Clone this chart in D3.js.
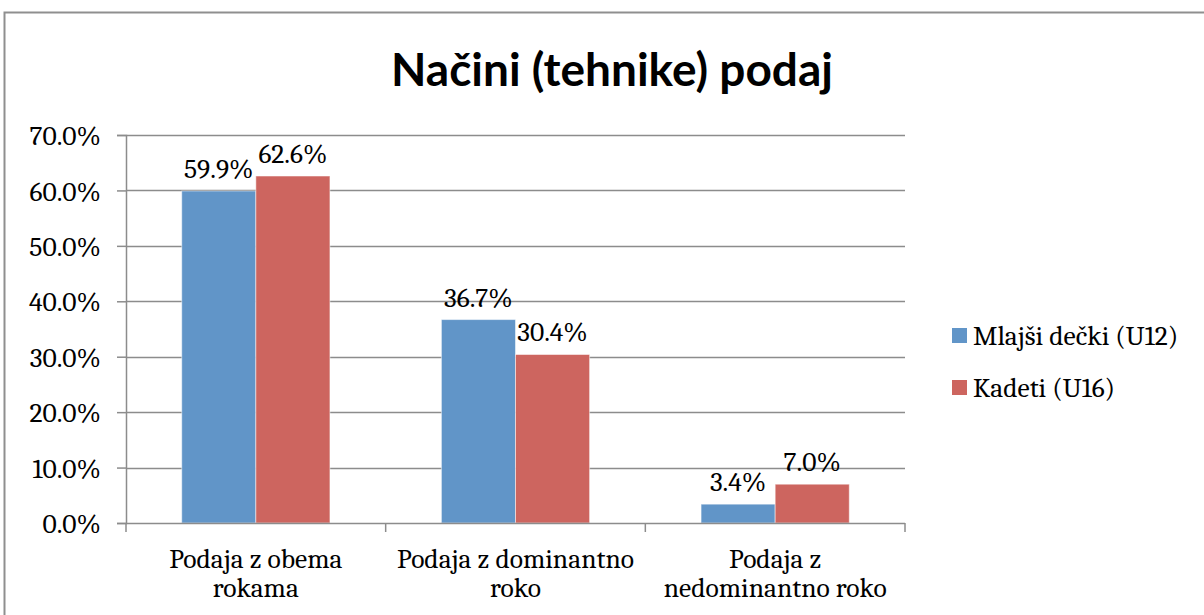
<!DOCTYPE html>
<html>
<head>
<meta charset="utf-8">
<script src="https://cdn.jsdelivr.net/npm/d3@7"></script>
<style>
  body { margin: 0; background: #fff; }
  svg { display: block; }
</style>
</head>
<body>
<div id="chart"></div>
<script>
// podatki
const categories = ["Podaja z obema rokama", "Podaja z dominantno roko", "Podaja z nedominantno roko"];
const categoryLines = [["Podaja z obema", "rokama"], ["Podaja z dominantno", "roko"], ["Podaja z", "nedominantno roko"]];
const seriesNames = ["Mlajši dečki (U12)", "Kadeti (U16)"];
const mlajsi = [0.599, 0.367, 0.034];
const kadeti = [0.626, 0.304, 0.070];
const yTicks = [0, 0.1, 0.2, 0.3, 0.4, 0.5, 0.6, 0.7];
const colors = ["#6195c8", "#cd655f"];

const W = 1204, H = 615;
const plot = { left: 126, right: 905, top: 135, bottom: 523 };
const serif = "Cambria, 'Liberation Serif', serif";
const fs = "27.5px";

const svg = d3.select("#chart").append("svg")
    .attr("width", W)
    .attr("height", H);

// okvir
svg.append("rect")
    .attr("x", 4.5).attr("y", 12.5)
    .attr("width", W + 10).attr("height", H + 10)
    .attr("fill", "#fff")
    .attr("stroke", "#8f8f8f")
    .attr("stroke-width", 2);

// naslov
svg.append("text")
    .attr("x", 612).attr("y", 86)
    .attr("text-anchor", "middle")
    .style("font-family", "Lato, sans-serif")
    .style("font-weight", "bold")
    .style("font-size", "46px")
    .text("Načini (tehnike) podaj");

const y = d3.scaleLinear().domain([0, 0.7]).range([plot.bottom, plot.top]);
const x0 = d3.scaleBand().domain(categories).range([plot.left, plot.right]).padding(0);
const x1 = d3.scaleBand().domain(seriesNames).range([0, x0.bandwidth()])
    .paddingInner(0).paddingOuter(0.752);

// mreža
svg.append("g")
    .selectAll("line")
    .data(yTicks.slice(1))
    .join("line")
    .attr("x1", plot.left).attr("x2", plot.right)
    .attr("y1", d => Math.round(y(d)) + 0.5).attr("y2", d => Math.round(y(d)) + 0.5)
    .attr("stroke", "#8c8c8c")
    .attr("stroke-width", 1.5);

// os y
const yAxis = svg.append("g")
    .attr("transform", `translate(${plot.left},0)`)
    .call(d3.axisLeft(y).tickValues(yTicks).tickFormat(d3.format(".1%")).tickSize(9).tickPadding(16));
yAxis.select(".domain").attr("stroke", "#8c8c8c").attr("stroke-width", 1.5);
yAxis.selectAll(".tick line").attr("stroke", "#8c8c8c").attr("stroke-width", 1.5);
yAxis.selectAll(".tick text")
    .style("font-family", serif)
    .style("font-size", fs)
    .attr("fill", "#000")
    .attr("dy", "0.35em");

// stolpci
const data = categories.map((c, i) => ({ cat: c, values: [mlajsi[i], kadeti[i]] }));
const groups = svg.append("g")
    .selectAll("g")
    .data(data)
    .join("g")
    .attr("transform", d => `translate(${x0(d.cat)},0)`);

groups.selectAll("rect")
    .data(d => d.values.map((v, j) => ({ name: seriesNames[j], v, j })))
    .join("rect")
    .attr("x", d => x1(d.name))
    .attr("y", d => y(d.v))
    .attr("width", x1.bandwidth())
    .attr("height", d => y(0) - y(d.v))
    .attr("fill", d => colors[d.j])
    .attr("stroke", "#fff")
    .attr("stroke-opacity", 0.5)
    .attr("stroke-width", 1);

groups.selectAll("text")
    .data(d => d.values.map((v, j) => ({ name: seriesNames[j], v, j })))
    .join("text")
    .attr("x", d => x1(d.name) + x1.bandwidth() / 2)
    .attr("y", d => y(d.v) - 13)
    .attr("text-anchor", "middle")
    .style("font-family", serif)
    .style("font-size", fs)
    .text(d => d3.format(".1%")(d.v));

// os x
const xAxis = svg.append("g")
    .attr("transform", `translate(0,${plot.bottom})`);
xAxis.append("line")
    .attr("x1", plot.left).attr("x2", plot.right)
    .attr("y1", 0.5).attr("y2", 0.5)
    .attr("stroke", "#8c8c8c").attr("stroke-width", 1.5);
xAxis.selectAll(".sep")
    .data(categories.map(c => x0(c)).concat([plot.right]))
    .join("line")
    .attr("class", "sep")
    .attr("x1", d => d).attr("x2", d => d)
    .attr("y1", 0).attr("y2", 9)
    .attr("stroke", "#8c8c8c").attr("stroke-width", 1.5);
categories.forEach((c, i) => {
    const t = xAxis.append("text")
        .attr("text-anchor", "middle")
        .style("font-family", serif)
        .style("font-size", fs);
    categoryLines[i].forEach((ln, k) => {
        t.append("tspan")
            .attr("x", x0(c) + x0.bandwidth() / 2)
            .attr("y", 45 + k * 29)
            .text(ln);
    });
});

// legenda
const legend = svg.append("g").attr("transform", "translate(952,0)");
seriesNames.forEach((s, i) => {
    const ly = 345 + i * 52;
    legend.append("rect")
        .attr("x", 0).attr("y", ly - 17)
        .attr("width", 15).attr("height", 15)
        .attr("fill", colors[i]);
    legend.append("text")
        .attr("x", 21).attr("y", ly)
        .style("font-family", serif)
        .style("font-size", fs)
        .text(s);
});
</script>
</body>
</html>
